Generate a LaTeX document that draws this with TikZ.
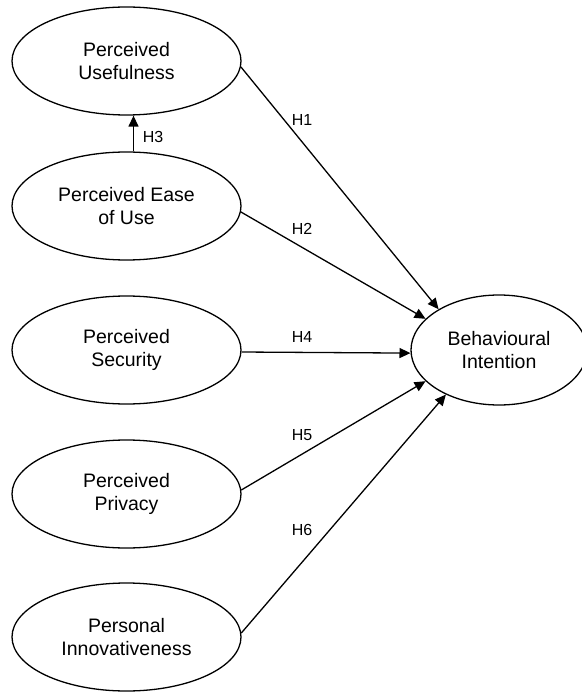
\documentclass[tikz,border=0pt]{standalone}
\usepackage{fontspec}
\setmainfont{Liberation Sans}
\usetikzlibrary{shapes.geometric,arrows.meta}
\tikzset{
  construct/.style={ellipse, draw, line width=1.3pt, minimum width=229pt, minimum height=108pt, inner sep=0pt, align=center, font=\fontsize{19.5}{23}\selectfont},
  arr/.style={line width=1.3pt, -{Triangle[length=11pt,width=10pt]}},
  hlab/.style={font=\fontsize{16}{18}\selectfont, inner sep=0pt}
}
\begin{document}
\begin{tikzpicture}[x=1pt,y=-1pt]
\useasboundingbox (0,0) rectangle (581,692);
\node[construct] (pu) at (126.5,61) {Perceived\\Usefulness};
\node[construct] (peu) at (126.5,206) {Perceived Ease\\of Use};
\node[construct] (ps) at (126.5,350) {Perceived\\Security};
\node[construct] (pp) at (126.5,494) {Perceived\\Privacy};
\node[construct] (pi) at (126.5,637) {Personal\\Innovativeness};
\node[construct, minimum width=176pt, minimum height=110pt] (bi) at (499,350) {Behavioural\\Intention};

\draw[arr] ([xshift=7pt]peu.north) -- ([xshift=7pt]pu.south);
\draw[arr] (pu.-3) -- (bi.146);
\draw[arr] (peu.-3) -- (bi.157);
\draw[arr] (ps.-1.5) -- (bi.182);
\draw[arr] (pp.2) -- (bi.203);
\draw[arr] (pi.2) -- (bi.220);

\node[hlab] (h1) at (302,120) {H1};
\node[hlab] (h2) at (302,229) {H2};
\node[hlab] (h3) at (153,137) {H3};
\node[hlab] (h4) at (302,337) {H4};
\node[hlab] (h5) at (302,435) {H5};
\node[hlab] (h6) at (302,530) {H6};
\end{tikzpicture}
\end{document}
